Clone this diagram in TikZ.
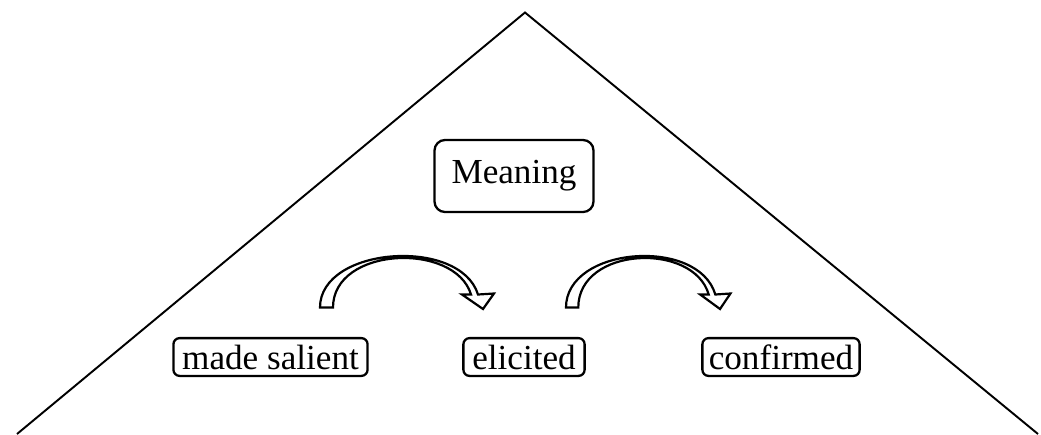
\documentclass[tikz,border=0pt]{standalone}
\usepackage{fontspec}
\setmainfont{Liberation Serif}
\usetikzlibrary{positioning}
\tikzset{box/.style={draw, line width=1.3pt, rounded corners=3.5pt, minimum height=21.5pt, inner sep=0pt},
  bigbox/.style={box, rounded corners=6pt, minimum height=41pt},
  blockarrow/.style={draw, fill=white, line width=1.25pt, line join=miter}}

\begin{document}
\begin{tikzpicture}[x=0.02cm, y=-0.02cm, font=\fontsize{20}{24}\selectfont]
  \useasboundingbox (0,0) rectangle (1041,434);
  % the triangle
  \coordinate (apex) at (525,12.5);
  \coordinate (lft) at (17,434);
  \coordinate (rgt) at (1038,434);
  \draw[line width=1.1pt] (lft) -- (apex) -- (rgt);
  % boxes
  \node[bigbox, minimum width=90.5pt] (meaning) at (514,176) {Meaning};
  \node[box, minimum width=110.5pt] (salient) at (270.5,357) {made salient};
  \node[box, minimum width=69pt] (elicited) at (524,357) {elicited};
  \node[box, minimum width=89.5pt] (confirmed) at (781,357) {confirmed};
  % curved block arrows
  \foreach \x/\s in {320/1, 566/0.945}{
    \draw[blockarrow, shift={(\x,307.5)}, xscale=\s]
      (0,0) .. controls (0,-61) and (140,-71) .. (158,-13)
      -- (174,-14) -- (163,1.5) -- (142,-13) -- (151,-13)
      .. controls (135,-66) and (13,-61) .. (13,0) -- cycle;
  }
\end{tikzpicture}
\end{document}
